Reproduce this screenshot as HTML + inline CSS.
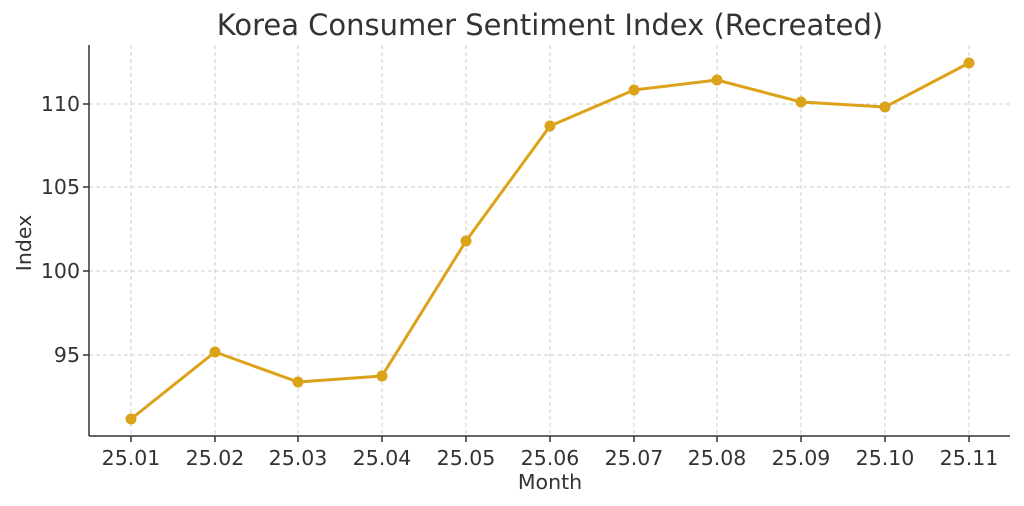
<!DOCTYPE html>
<html><head><meta charset="utf-8"><style>
html,body{margin:0;padding:0;background:#fff;}
svg{display:block;font-family:"DejaVu Sans","Liberation Sans",sans-serif;}
</style></head><body>
<svg width="1024" height="506" viewBox="0 0 1024 506" xmlns="http://www.w3.org/2000/svg">
<rect width="1024" height="506" fill="#fff"/>
<g stroke="#cccccc" stroke-width="1" stroke-dasharray="4,3">
<line x1="131" y1="45" x2="131" y2="436"/><line x1="215" y1="45" x2="215" y2="436"/>
<line x1="298" y1="45" x2="298" y2="436"/><line x1="382" y1="45" x2="382" y2="436"/>
<line x1="466" y1="45" x2="466" y2="436"/><line x1="550" y1="45" x2="550" y2="436"/>
<line x1="634" y1="45" x2="634" y2="436"/><line x1="717" y1="45" x2="717" y2="436"/>
<line x1="801" y1="45" x2="801" y2="436"/><line x1="885" y1="45" x2="885" y2="436"/>
<line x1="969" y1="45" x2="969" y2="436"/>
<line x1="89" y1="104" x2="1010" y2="104"/><line x1="89" y1="187" x2="1010" y2="187"/>
<line x1="89" y1="271" x2="1010" y2="271"/><line x1="89" y1="355" x2="1010" y2="355"/>
</g>
<g stroke="#333" stroke-width="1.5">
<line x1="89" y1="45" x2="89" y2="436"/><line x1="89" y1="436" x2="1010" y2="436"/>
<line x1="83" y1="104" x2="89" y2="104"/><line x1="83" y1="187" x2="89" y2="187"/>
<line x1="83" y1="271" x2="89" y2="271"/><line x1="83" y1="355" x2="89" y2="355"/>
<line x1="131" y1="436" x2="131" y2="442"/><line x1="215" y1="436" x2="215" y2="442"/>
<line x1="298" y1="436" x2="298" y2="442"/><line x1="382" y1="436" x2="382" y2="442"/>
<line x1="466" y1="436" x2="466" y2="442"/><line x1="550" y1="436" x2="550" y2="442"/>
<line x1="634" y1="436" x2="634" y2="442"/><line x1="717" y1="436" x2="717" y2="442"/>
<line x1="801" y1="436" x2="801" y2="442"/><line x1="885" y1="436" x2="885" y2="442"/>
<line x1="969" y1="436" x2="969" y2="442"/>
</g>
<polyline fill="none" stroke="#DCA21A" stroke-width="3" stroke-linejoin="round" points="131,419 215,352 298,382 382,376 466,241 550,126 634,90 717,80 801,102 885,107 969,63"/>
<g fill="#DCA21A">
<circle cx="131" cy="419" r="5.5"/><circle cx="215" cy="352" r="5.5"/><circle cx="298" cy="382" r="5.5"/>
<circle cx="382" cy="376" r="5.5"/><circle cx="466" cy="241" r="5.5"/><circle cx="550" cy="126" r="5.5"/>
<circle cx="634" cy="90" r="5.5"/><circle cx="717" cy="80" r="5.5"/><circle cx="801" cy="102" r="5.5"/>
<circle cx="885" cy="107" r="5.5"/><circle cx="969" cy="63" r="5.5"/>
</g>
<g fill="#333" font-size="20.5" text-anchor="end">
<text x="80" y="111">110</text><text x="80" y="194">105</text>
<text x="80" y="278">100</text><text x="80" y="362">95</text>
</g>
<g fill="#333" font-size="20.5" text-anchor="middle">
<text x="131" y="465">25.01</text><text x="215" y="465">25.02</text><text x="298" y="465">25.03</text>
<text x="382" y="465">25.04</text><text x="466" y="465">25.05</text><text x="550" y="465">25.06</text>
<text x="634" y="465">25.07</text><text x="717" y="465">25.08</text><text x="801" y="465">25.09</text>
<text x="885" y="465">25.10</text><text x="969" y="465">25.11</text>
<text x="550" y="489" font-size="20.5">Month</text>
<text x="550" y="35" font-size="29">Korea Consumer Sentiment Index (Recreated)</text>
</g>
<text transform="translate(31,243) rotate(-90)" fill="#333" font-size="20.5" text-anchor="middle">Index</text>
</svg>
</body></html>
